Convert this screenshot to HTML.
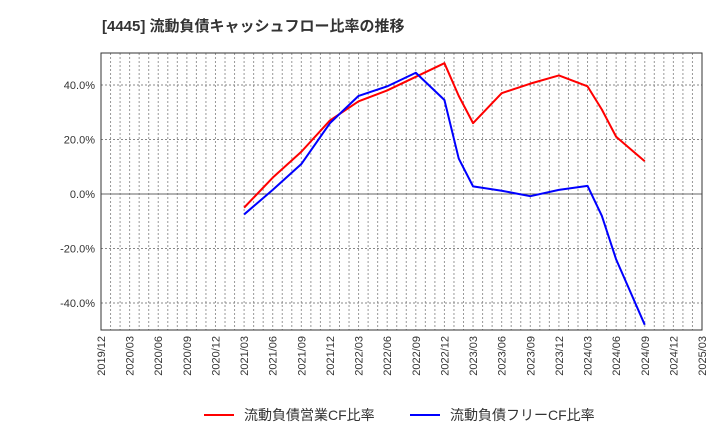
<!DOCTYPE html>
<html><head><meta charset="utf-8"><style>
body{margin:0;background:#fff;font-family:"Liberation Sans","Noto Sans CJK JP",sans-serif}
</style></head><body>
<svg width="720" height="440" xmlns="http://www.w3.org/2000/svg" id="svg" font-family="Liberation Sans, Noto Sans CJK JP, sans-serif">
<text x="102" y="31" font-size="15" font-weight="bold" fill="#333">[4445]  流動負債キャッシュフロー比率の推移</text>
<g id="grid"></g><g id="axes"></g><g id="series"></g>
<g>
<line x1="204" y1="415" x2="234" y2="415" stroke="#f00" stroke-width="2"/>
<text x="244" y="420" font-size="14" fill="#333">流動負債営業CF比率</text>
<line x1="410" y1="415" x2="440" y2="415" stroke="#00f" stroke-width="2"/>
<text x="450" y="420" font-size="14" fill="#333">流動負債フリーCF比率</text>
</g>
</svg>
<script>
const tickLabels=["2019/12","2020/03","2020/06","2020/09","2020/12","2021/03","2021/06","2021/09","2021/12","2022/03","2022/06","2022/09","2022/12","2023/03","2023/06","2023/09","2023/12","2024/03","2024/06","2024/09","2024/12","2025/03"];
const yTicks=[-40,-20,0,20,40];
// month offsets from 2019/12
const redMonths=[15,18,21,24,27,30,33,36,37.5,39,42,45,48,51,52.5,54,57];
const redValues=[-5,6,15.5,27,34,38,43,48,36,26,37,40.5,43.5,39.5,31,21,12];
const blueMonths=[15,18,21,24,27,30,33,34.5,36,37.5,39,42,45,48,51,52.5,54,57];
const blueValues=[-7.5,1.5,11,26,36,39.5,44.5,39.5,34.5,13,2.8,1.2,-0.8,1.5,3,-8,-24,-48];
const L=101,R=702,T=53,B=330;
const X=m=>L+(R-L)*m/63;
const Y=v=>194-v*54.5/20;
const NS="http://www.w3.org/2000/svg";
function mk(p,t,a){const e=document.createElementNS(NS,t);for(const k in a)e.setAttribute(k,a[k]);document.getElementById(p).appendChild(e);return e;}
for(let m=1;m<63;m++){const e=mk("grid","line",{x1:X(m),x2:X(m),y1:T,y2:B,stroke:"#999","stroke-dasharray":"2,2","stroke-width":1});

}
yTicks.forEach(v=>{const e=mk("grid","line",{x1:L,x2:R,y1:Y(v),y2:Y(v),stroke:v==0?"#666":"#888","stroke-dasharray":v==0?"none":"2,2","stroke-width":1});


const t=mk("axes","text",{x:L-6,y:Y(v)+4,"text-anchor":"end","font-size":11,fill:"#333"});t.textContent=v.toFixed(1)+"%";

});
const fr=mk("axes","rect",{x:L,y:T,width:R-L,height:B-T,fill:"none",stroke:"#333","stroke-width":1});


tickLabels.forEach((s,i)=>{const x=X(i*3),y=B+6;const t=mk("axes","text",{x:x+4,y:y,"text-anchor":"end","font-size":11,fill:"#333",transform:`rotate(-90 ${x+4} ${y})`});t.textContent=s;

});
function line(ms,vs,c,n){const p=mk("series","polyline",{points:ms.map((m,i)=>X(m)+","+Y(vs[i])).join(" "),fill:"none",stroke:c,"stroke-width":2,"stroke-linejoin":"round"});

}
line(redMonths,redValues,"#f00","operating-cf-line");
line(blueMonths,blueValues,"#00f","free-cf-line");
</script>
</body></html>
